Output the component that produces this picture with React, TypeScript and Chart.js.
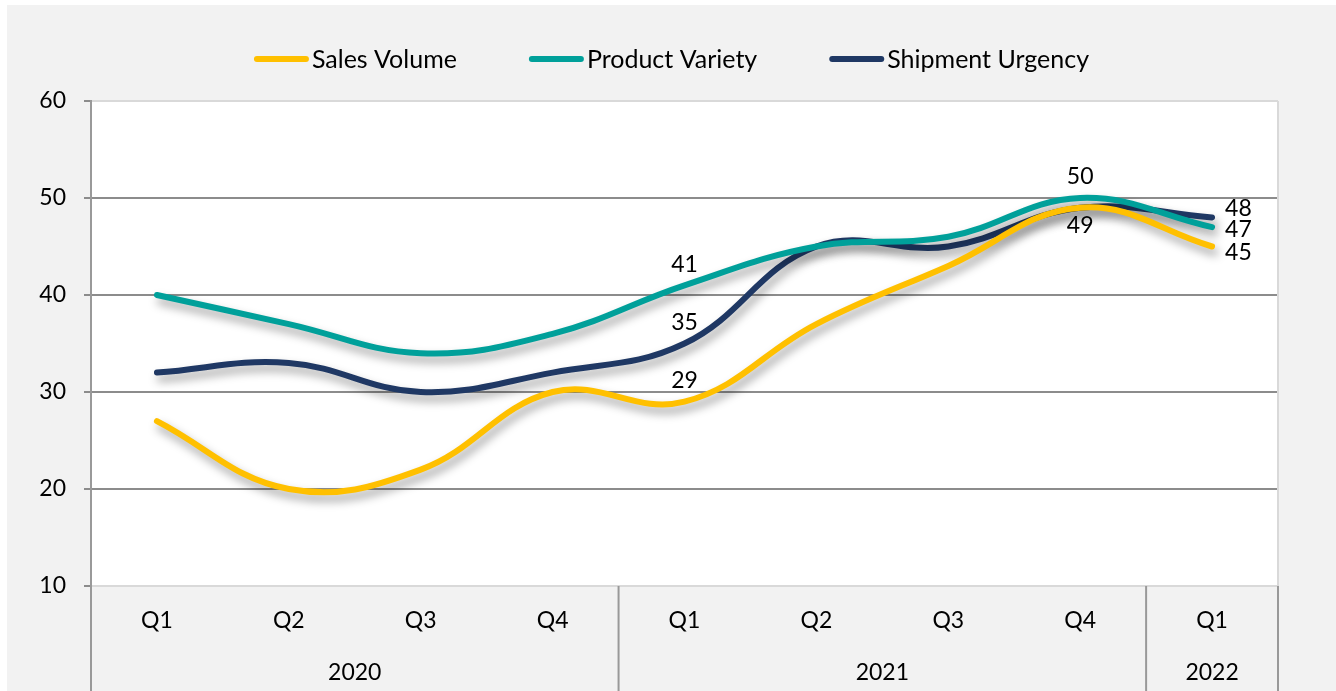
import React, { useEffect, useRef } from "react";
import { Chart, registerables } from "chart.js";

Chart.register(...registerables);

const quarters = ["Q1", "Q2", "Q3", "Q4", "Q1", "Q2", "Q3", "Q4", "Q1"];
const years = ["2020", "2021", "2022"];
const yearSpans = [4, 4, 1];
const salesVolume = [27, 20, 22, 30, 29, 37, 43, 49, 45];
const productVariety = [40, 37, 34, 36, 41, 45, 46, 50, 47];
const shipmentUrgency = [32, 33, 30, 32, 35, 45, 45, 49, 48];
const seriesNames = ["Sales Volume", "Product Variety", "Shipment Urgency"];
const seriesColors = ["#FFC000", "#00A09A", "#1F3864"];
const yTicks = [10, 20, 30, 40, 50, 60];

// which points carry a value label, and where it sits relative to the point
const pointLabels = [
  { series: 1, index: 4, pos: "above", dy: 0 },
  { series: 2, index: 4, pos: "above", dy: 0 },
  { series: 0, index: 4, pos: "above", dy: 0 },
  { series: 1, index: 7, pos: "above", dy: 0 },
  { series: 0, index: 7, pos: "below", dy: 0 },
  { series: 2, index: 8, pos: "right", dy: -9 },
  { series: 1, index: 8, pos: "right", dy: 2 },
  { series: 0, index: 8, pos: "right", dy: 6 },
];

const FONT = "Lato, 'Noto Sans', sans-serif";
const FONT_SIZE = 23;
const LEGEND_FONT_SIZE = 25;

export default function App() {
  const ref = useRef<HTMLCanvasElement | null>(null);

  useEffect(() => {
    const canvas = ref.current;
    if (!canvas) return;
    const seriesData = [salesVolume, productVariety, shipmentUrgency];

    const bgPlugin = {
      id: "bg",
      beforeDraw(chart: any) {
        const { ctx, width, height, chartArea } = chart;
        ctx.save();
        ctx.fillStyle = "#ffffff";
        ctx.fillRect(0, 0, width, height);
        ctx.fillStyle = "#f2f2f2";
        ctx.fillRect(7, 5, width - 7, height - 5);
        ctx.fillStyle = "#ffffff";
        ctx.fillRect(
          chartArea.left,
          chartArea.top,
          chartArea.right - chartArea.left,
          chartArea.bottom - chartArea.top
        );
        ctx.restore();
      },
    };

    const shadowPlugin = {
      id: "shadow",
      beforeDatasetsDraw(chart: any) {
        const ctx = chart.ctx;
        ctx.save();
        ctx.shadowColor = "rgba(0,0,0,0.38)";
        ctx.shadowBlur = 10;
        ctx.shadowOffsetX = 3;
        ctx.shadowOffsetY = 6;
      },
      afterDatasetsDraw(chart: any) {
        chart.ctx.restore();
      },
    };

    const decorPlugin = {
      id: "decor",
      afterDraw(chart: any) {
        const { ctx, chartArea, height, width } = chart;
        const xs = chart.scales.x;
        ctx.save();
        // right border of plot
        ctx.strokeStyle = "#d9d9d9";
        ctx.lineWidth = 2;
        ctx.beginPath();
        ctx.moveTo(chartArea.right, chartArea.top);
        ctx.lineTo(chartArea.right, chartArea.bottom);
        ctx.stroke();

        // group separators & year labels
        const bounds: number[] = [chartArea.left];
        let idx = 0;
        yearSpans.forEach((span) => {
          idx += span;
          if (idx >= quarters.length) bounds.push(chartArea.right);
          else
            bounds.push(
              (xs.getPixelForValue(idx - 1) + xs.getPixelForValue(idx)) / 2
            );
        });
        ctx.strokeStyle = "#999999";
        ctx.lineWidth = 2;
        bounds.forEach((bx) => {
          ctx.beginPath();
          ctx.moveTo(bx, chartArea.bottom);
          ctx.lineTo(bx, height);
          ctx.stroke();
        });
        ctx.fillStyle = "#000000";
        ctx.font = `${FONT_SIZE}px ${FONT}`;
        ctx.textAlign = "center";
        ctx.textBaseline = "middle";
        years.forEach((yr, i) => {
          ctx.fillText(yr, (bounds[i] + bounds[i + 1]) / 2, chartArea.bottom + 87);
        });

        // value labels
        pointLabels.forEach((pl) => {
          const meta = chart.getDatasetMeta(pl.series);
          const pt = meta.data[pl.index];
          const text = String(seriesData[pl.series][pl.index]);
          let x = pt.x;
          let y = pt.y;
          if (pl.pos === "above") {
            ctx.textAlign = "center";
            y = pt.y - 21;
          } else if (pl.pos === "below") {
            ctx.textAlign = "center";
            y = pt.y + 18;
          } else {
            ctx.textAlign = "left";
            x = pt.x + 13;
          }
          y += pl.dy;
          ctx.fillText(text, x, y);
        });

        // legend
        ctx.font = `${LEGEND_FONT_SIZE}px ${FONT}`;
        const lineLen = 49;
        const cap = 3;
        const gapText = 3;
        const gapItem = 72;
        const widths = seriesNames.map((n) => ctx.measureText(n).width);
        const total =
          widths.reduce((a, b) => a + b, 0) +
          seriesNames.length * (lineLen + 2 * cap + gapText) +
          gapItem * (seriesNames.length - 1);
        let lx = (7 + width) / 2 - total / 2;
        const ly = 59;
        ctx.lineCap = "round";
        ctx.lineWidth = 6;
        ctx.textAlign = "left";
        seriesNames.forEach((n, i) => {
          ctx.strokeStyle = seriesColors[i];
          ctx.beginPath();
          ctx.moveTo(lx + cap, ly);
          ctx.lineTo(lx + cap + lineLen, ly);
          ctx.stroke();
          const tx = lx + lineLen + 2 * cap + gapText;
          ctx.fillStyle = "#000000";
          ctx.fillText(n, tx, ly + 1);
          lx = tx + widths[i] + gapItem;
        });
        ctx.restore();
      },
    };

    const chart = new Chart(canvas, {
      type: "line",
      data: {
        labels: quarters,
        datasets: seriesNames.map((name, i) => ({
          label: name,
          data: seriesData[i],
          borderColor: seriesColors[i],
          backgroundColor: seriesColors[i],
          borderWidth: 6,
          tension: 0.4,
          pointRadius: 0,
          pointHoverRadius: 0,
          fill: false,
          borderCapStyle: "round" as const,
        })),
      },
      options: {
        responsive: false,
        animation: false,
        events: [],
        layout: { padding: { top: 101, right: 58, bottom: 0, left: 0 } },
        plugins: {
          legend: { display: false },
          tooltip: { enabled: false },
          title: { display: false },
        },
        scales: {
          x: {
            type: "category",
            offset: true,
            grid: { display: false, drawTicks: false },
            border: { display: true, color: "#d9d9d9", width: 2 },
            ticks: {
              color: "#000000",
              font: { family: FONT, size: FONT_SIZE },
              padding: 21,
              maxRotation: 0,
              autoSkip: false,
            },
            afterFit(scale: any) {
              scale.height = 105;
            },
          },
          y: {
            min: 10,
            max: 60,
            afterBuildTicks(scale: any) {
              scale.ticks = yTicks.map((v) => ({ value: v }));
            },
            grid: {
              color: (c: any) =>
                c.tick && (c.tick.value === 10 || c.tick.value === 60)
                  ? "#d9d9d9"
                  : "#8c8c8c",
              lineWidth: 2,
              drawTicks: true,
              tickLength: 7,
              tickColor: "#8c8c8c",
              tickWidth: 2,
            },
            border: { display: true, color: "#999999", width: 2 },
            ticks: {
              color: "#000000",
              font: { family: FONT, size: FONT_SIZE },
              padding: 18,
            },
            afterFit(scale: any) {
              scale.width = 91;
            },
          },
        },
      },
      plugins: [bgPlugin, shadowPlugin, decorPlugin],
    });

    return () => chart.destroy();
  }, []);

  return (
    <div style={{ position: "fixed", left: 0, top: 0, width: 1336, height: 691 }}>
      <canvas ref={ref} width={1336} height={691} style={{ display: "block" }} />
    </div>
  );
}
